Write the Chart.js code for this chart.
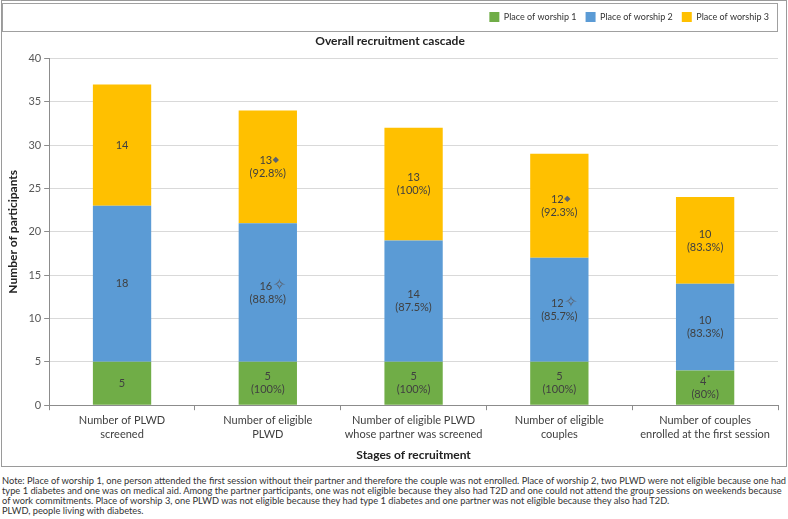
<!DOCTYPE html>
<html>
<head>
<meta charset="utf-8">
<script src="https://cdn.jsdelivr.net/npm/chart.js@4.4.1/dist/chart.umd.min.js"></script>
<style>
  body { margin: 0; background: #fff; }
  #frame { position: absolute; left: 1px; top: 0; width: 784px; height: 465px; border: 1px solid #9a9a9a; }
  #note { position: absolute; left: 2px; top: 476px; width: 786px; font-family: "Liberation Sans Narrow", Lato, sans-serif; font-size: 9.3px; line-height: 10px; color: #333; }
  #note p { margin: 0; }
</style>
</head>
<body>
<div id="frame"><canvas id="chart" width="784" height="465"></canvas></div>
<div id="note">
  <p>Note: Place of worship 1, one person attended the first session without their partner and therefore the couple was not enrolled. Place of worship 2, two PLWD were not eligible because one had type 1 diabetes and one was on medical aid. Among the partner participants, one was not eligible because they also had T2D and one could not attend the group sessions on weekends because of work commitments. Place of worship 3, one PLWD was not eligible because they had type 1 diabetes and one partner was not eligible because they also had T2D.</p>
  <p>PLWD, people living with diabetes.</p>
</div>
<script>
const categories = [
  ["Number of PLWD", "screened"],
  ["Number of eligible", "PLWD"],
  ["Number of eligible PLWD", "whose partner was screened"],
  ["Number of eligible", "couples"],
  ["Number of couples", "enrolled at the first session"]
];
const worship1 = [5, 5, 5, 5, 4];
const worship2 = [18, 16, 14, 12, 10];
const worship3 = [14, 13, 13, 12, 10];
const pct1 = [null, "100%", "100%", "100%", "80%"];
const pct2 = [null, "88.8%", "87.5%", "85.7%", "83.3%"];
const pct3 = [null, "92.8%", "100%", "92.3%", "83.3%"];
const marks1 = ["", "", "", "", "*"];
const marks2 = ["", "\u2727", "", "\u2727", ""];
const marks3 = ["", "\u25C6", "", "\u25C6", ""];

const FONT = "Lato, 'Open Sans', sans-serif";

// segment labels: value (+ footnote mark) and percentage
const segLabels = {
  id: "segLabels",
  afterDatasetsDraw(chart) {
    const ctx = chart.ctx;
    const pcts = [pct1, pct2, pct3];
    const marks = [marks1, marks2, marks3];
    ctx.save();
    ctx.font = "11px " + FONT;
    ctx.fillStyle = "#404040";
    ctx.textBaseline = "middle";
    chart.data.datasets.forEach((ds, di) => {
      chart.getDatasetMeta(di).data.forEach((bar, i) => {
        const cy = (bar.y + bar.base) / 2;
        const val = String(ds.data[i]);
        const p = pcts[di][i];
        const m = marks[di][i];
        const y1 = p ? cy - 6.5 : cy;
        ctx.textAlign = "center";
        if (m === "*") {
          ctx.fillText(val, bar.x - 2, y1);
          ctx.font = "8px " + FONT;
          ctx.fillText("*", bar.x + 3.5, y1 - 3);
          ctx.font = "11px " + FONT;
        } else if (m) {
          ctx.fillText(val, bar.x - 2, y1);
          ctx.save();
          ctx.fillStyle = "#5a6270";
          ctx.font = (m === "\u25C6" ? "8px " : "16px ") + "'DejaVu Sans', sans-serif";
          ctx.textAlign = "left";
          ctx.fillText(m, bar.x + 5, y1);
          ctx.restore();
        } else {
          ctx.fillText(val, bar.x, y1);
        }
        if (p) ctx.fillText("(" + p + ")", bar.x, cy + 6.5);
      });
    });
    ctx.restore();
  }
};

// border around the legend
const legendBox = {
  id: "legendBox",
  afterDraw(chart) {
    const l = chart.legend;
    const ctx = chart.ctx;
    ctx.save();
    ctx.strokeStyle = "#a0a0a0";
    ctx.lineWidth = 1;
    ctx.strokeRect(l.left + 0.5, l.top + 0.5, l.width - 1, l.height - 1);
    ctx.restore();
  }
};

new Chart(document.getElementById("chart"), {
  type: "bar",
  data: {
    labels: categories,
    datasets: [
      { label: "Place of worship 1", data: worship1, backgroundColor: "#70AD47" },
      { label: "Place of worship 2", data: worship2, backgroundColor: "#5B9BD5" },
      { label: "Place of worship 3", data: worship3, backgroundColor: "#FFC000" }
    ]
  },
  options: {
    responsive: false,
    animation: false,
    layout: { padding: { left: 0, right: 8, top: 2, bottom: 0 } },
    datasets: { bar: { categoryPercentage: 1, barPercentage: 0.4 } },
    plugins: {
      legend: {
        position: "top",
        align: "end",
        weight: 3000,
        labels: {
          boxWidth: 10, boxHeight: 10, padding: 9,
          color: "#333",
          font: { family: FONT, size: 9 }
        }
      },
      title: {
        display: true,
        text: "Overall recruitment cascade",
        color: "#222",
        font: { family: FONT, size: 12, weight: "bold" },
        padding: { top: 2, bottom: 10 }
      },
      tooltip: { enabled: false }
    },
    scales: {
      x: {
        stacked: true,
        grid: { display: true, drawOnChartArea: false, offset: true, tickLength: 5, tickColor: "#8c8c8c" },
        border: { color: "#8c8c8c" },
        ticks: { color: "#404040", font: { family: FONT, size: 11 }, maxRotation: 0, autoSkip: false, padding: 4 },
        title: { display: true, text: "Stages of recruitment", color: "#222", font: { family: FONT, size: 12, weight: "bold" }, padding: { top: 3 } }
      },
      y: {
        stacked: true,
        min: 0, max: 40,
        ticks: { stepSize: 5, color: "#595959", font: { family: FONT, size: 11 }, padding: 3 },
        grid: { color: "#d9d9d9", tickLength: 5, tickColor: "#8c8c8c" },
        border: { color: "#8c8c8c" },
        title: { display: true, text: "Number of participants", color: "#222", font: { family: FONT, size: 12, weight: "bold" }, padding: { top: 4, bottom: 5 } }
      }
    }
  },
  plugins: [segLabels, legendBox]
});
</script>
</body>
</html>
